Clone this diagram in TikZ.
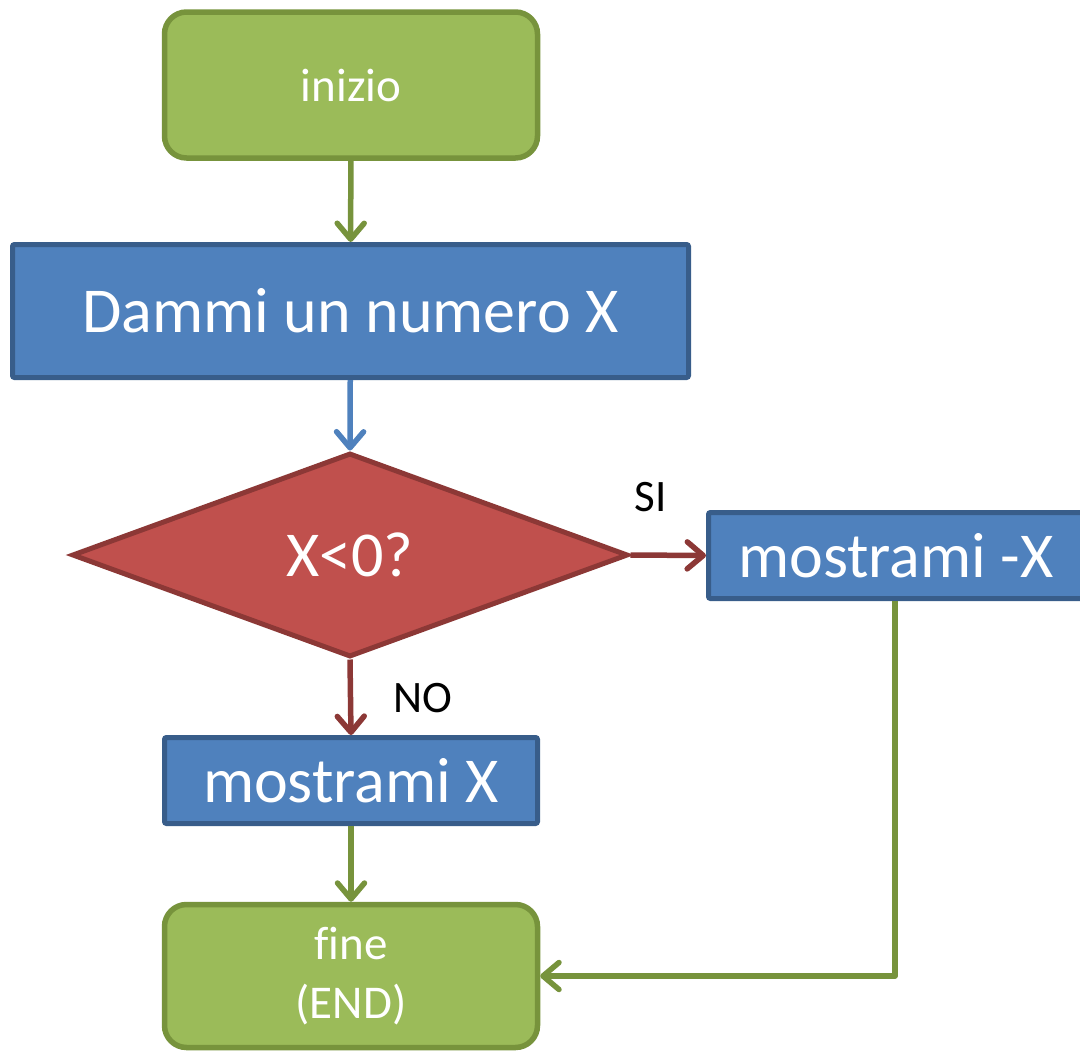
\documentclass[tikz,border=0pt]{standalone}
\usepackage{fontspec}
\setmainfont{Carlito}[Ligatures=NoCommon]
\usetikzlibrary{shapes.geometric,arrows.meta}
\definecolor{gfill}{HTML}{9BBB59}
\definecolor{gline}{HTML}{77933C}
\definecolor{bfill}{HTML}{4F81BD}
\definecolor{bline}{HTML}{385D8A}
\definecolor{rfill}{HTML}{C0504D}
\definecolor{rline}{HTML}{8C3836}
\tikzset{
  term/.style={draw=gline, fill=gfill, line width=5.5pt, rounded corners=22pt,
    minimum width=373pt, inner sep=0pt, text=white, align=center,
    font=\fontsize{47}{59}\selectfont},
  procbox/.style={draw=bline, fill=bfill, line width=5pt, rounded corners=2pt,
    inner sep=0pt, text=white, font=\fontsize{64}{74}\selectfont},
  decis/.style={diamond, draw=rline, fill=rfill, line width=5pt, inner sep=0pt,
    minimum width=556pt, minimum height=204pt, text=white,
    font=\fontsize{64}{74}\selectfont},
  conn/.style={line width=5.5pt, -{Straight Barb[length=16pt,width=27pt,round]}},
  lbl/.style={text=black, inner sep=0pt, font=\fontsize{45}{50}\selectfont},
}
\begin{document}
\begin{tikzpicture}[x=1pt,y=-1pt]
\useasboundingbox (0,0) rectangle (1080,1053);
\node[term, minimum height=146pt] (start) at (351,85) {inizio};
\node[procbox, minimum width=676pt, minimum height=133pt] (input) at (350.5,311) {Dammi un numero X};
\node[decis] (dec) at (350,555) {X<0?};
\node[procbox, minimum width=375pt, minimum height=86pt] (neg) at (896,555.5) {mostrami -X};
\node[procbox, minimum width=373pt, minimum height=86pt] (pos) at (351,780.5) {mostrami X};
\node[term, minimum height=143pt] (stop) at (351,976) {fine\\(END)};
\node[lbl] (si) at (651,497) {SI};
\node[lbl] (no) at (423,698) {NO};
\draw[conn, gline] (start) -- (input);
\draw[conn, bfill] (input) -- (dec.north);
\draw[conn, rline] (dec.east) -- (neg.west);
\draw[conn, rline] (dec.south) -- (pos.north);
\draw[conn, gline] (pos) -- (stop);
\draw[conn, gline, line join=round] ([xshift=-1pt]neg.south) |- (stop.east);
\end{tikzpicture}
\end{document}
